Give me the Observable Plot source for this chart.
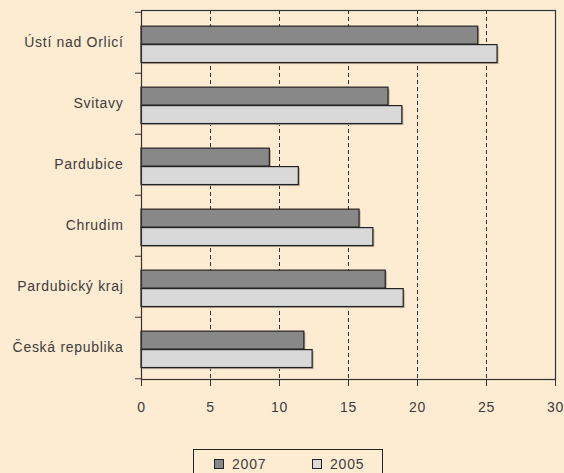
<!DOCTYPE html>
<html>
<head>
<meta charset="utf-8">
<script src="https://cdn.jsdelivr.net/npm/d3@7"></script>
<script src="https://cdn.jsdelivr.net/npm/@observablehq/plot@0.6"></script>
<style>
  html, body { margin: 0; padding: 0; background: #feecd2; }
  #wrap { position: relative; width: 564px; height: 473px; overflow: hidden; background: #feecd2; font-family: "Liberation Sans", Arial, sans-serif; color: #3c3c3c; }
  #legend { position: absolute; left: 193px; top: 449px; width: 190px; height: 40px; border: 1px solid #222; box-sizing: border-box; }
  .item { position: absolute; top: 6px; font-size: 14px; letter-spacing: 0.8px; display: flex; align-items: center; }
  .sw { display: inline-block; width: 8px; height: 8px; border: 1px solid #222; margin-right: 8px; }
</style>
</head>
<body>
<div id="wrap">
  <div id="chart"></div>
  <div id="legend"></div>
</div>
<script>
const categories = ["Ústí nad Orlicí", "Svitavy", "Pardubice", "Chrudim", "Pardubický kraj", "Česká republika"];
const values2007 = [24.4, 17.9, 9.3, 15.8, 17.7, 11.8];
const values2005 = [25.8, 18.9, 11.4, 16.8, 19.0, 12.4];
const years = ["2007", "2005"];
const xTicks = [0, 5, 10, 15, 20, 25, 30];
const gridTicks = [5, 10, 15, 20, 25];
const colors = {"2007": "#888888", "2005": "#d9d9da"};

const width = 564, height = 440, mL = 141, mR = 9, mT = 10, mB = 61;
const step = (height - mT - mB) / categories.length;

const rows = [];
categories.forEach((c, i) => {
  rows.push({cat: c, year: "2007", value: values2007[i]});
  rows.push({cat: c, year: "2005", value: values2005[i]});
});
const r07 = rows.filter(d => d.year === "2007");
const r05 = rows.filter(d => d.year === "2005");

const barStyle = (data, year, top, bottom) => [
  Plot.barX(data, {y: "cat", x: "value", fill: "#b3a99a", insetTop: top, insetBottom: bottom, dx: 1.5, dy: 1.5}),
  Plot.barX(data, {y: "cat", x: "value", fill: colors[year], stroke: "#222", strokeWidth: 1.2, insetTop: top, insetBottom: bottom})
];

const chart = Plot.plot({
  width, height,
  marginLeft: mL, marginRight: mR, marginTop: mT, marginBottom: mB,
  style: {background: "transparent", fontFamily: "'Liberation Sans', Arial, sans-serif", fontSize: "14px", color: "#3c3c3c", letterSpacing: "0.7px"},
  x: {domain: [0, 30]},
  y: {domain: categories, padding: 0},
  marks: [
    Plot.gridX(gridTicks, {stroke: "#333", strokeOpacity: 1, strokeDasharray: "4,3", strokeWidth: 1}),
    ...barStyle(r07, "2007", step * 0.23, step * 0.47),
    ...barStyle(r05, "2005", step * 0.53, step * 0.17),
    Plot.frame({stroke: "#333", strokeWidth: 1.2}),
    Plot.tickY(categories, {y: d => d, dy: -step / 2, stroke: "#333", insetLeft: -6, insetRight: width - mL - mR}),
    Plot.tickY(categories.slice(-1), {y: d => d, dy: step / 2, stroke: "#333", insetLeft: -6, insetRight: width - mL - mR}),
    Plot.axisX({ticks: xTicks, tickSize: 7, tickPadding: 16, stroke: "#333", fill: "#3c3c3c", fontSize: 14, label: null}),
    Plot.axisY({tickSize: 0, tickPadding: 18, fill: "#3c3c3c", fontSize: 14, label: null})
  ]
});
document.getElementById("chart").appendChild(chart);

const legend = document.getElementById("legend");
const lx = [20, 118];
years.forEach((y, i) => {
  const it = document.createElement("div");
  it.className = "item";
  it.style.left = lx[i] + "px";
  it.innerHTML = `<span class="sw" style="background:${colors[y]}"></span><span>${y}</span>`;
  legend.appendChild(it);
});
</script>
</body>
</html>
